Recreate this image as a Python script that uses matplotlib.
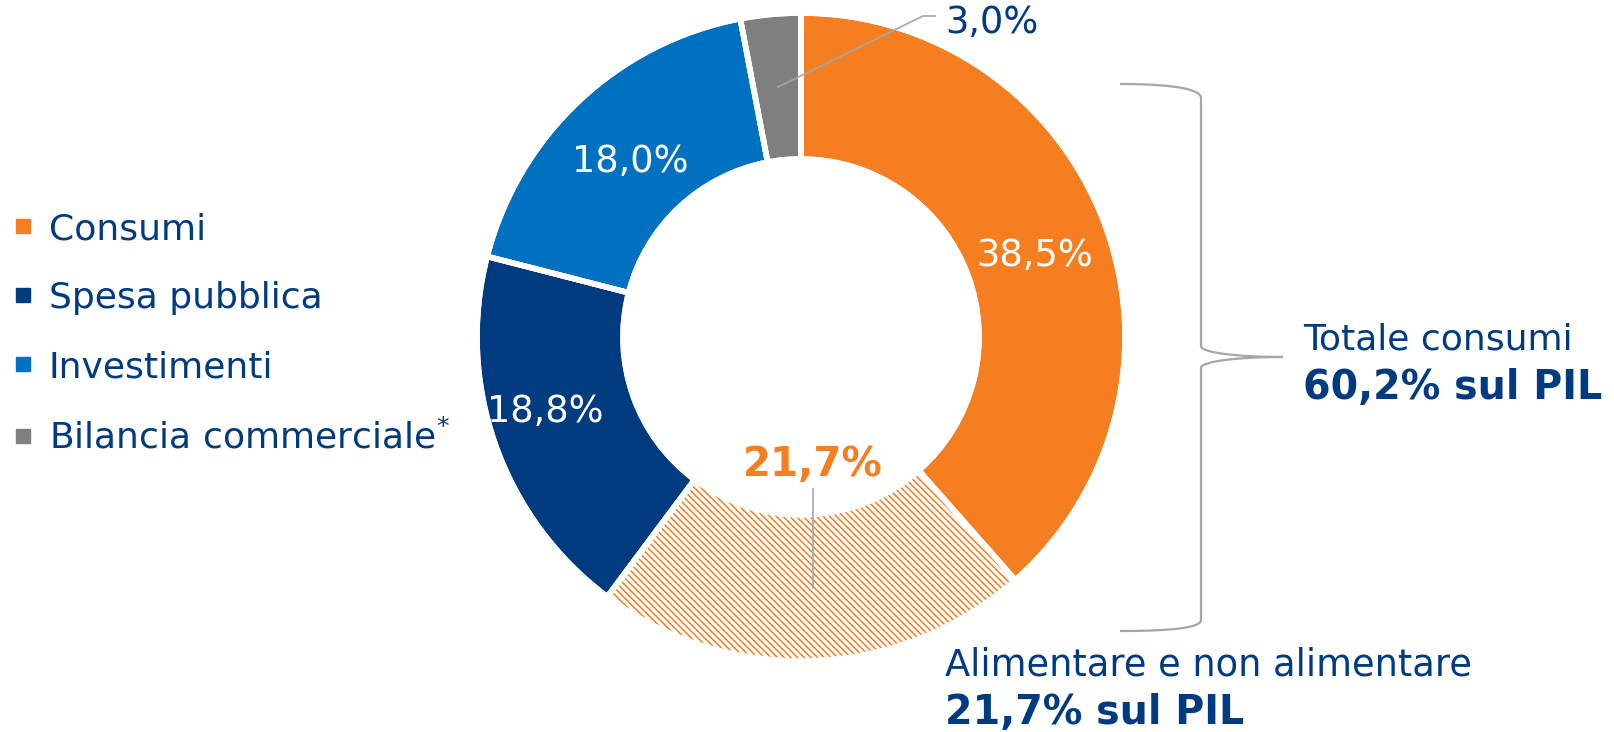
import matplotlib
matplotlib.use("Agg")
import matplotlib.pyplot as plt
from matplotlib.lines import Line2D
from matplotlib.path import Path
from matplotlib.patches import PathPatch

plt.rcParams['font.family'] = ['DejaVu Sans']
plt.rcParams['mathtext.fontset'] = 'dejavusans'
plt.rcParams['hatch.linewidth'] = 1.1

# data (% of PIL)
slices = ['Consumi', 'Alimentare e non alimentare', 'Spesa pubblica',
          'Investimenti', 'Bilancia commerciale']
values = [38.5, 21.7, 18.8, 18.0, 3.0]
legend_labels = ['Consumi', 'Spesa pubblica', 'Investimenti',
                 'Bilancia commerciale$^{*}$']
totale_consumi = 60.2

ORANGE = '#F47E20'
NAVY = '#003B7F'
BLUE = '#0070C0'
GREY = '#7F7F7F'
TXT = '#003A80'
LINE = '#A6A6A6'
colors = [ORANGE, 'white', NAVY, BLUE, GREY]
legend_colors = [ORANGE, NAVY, BLUE, GREY]


def pct(v):
    return f"{v:.1f}".replace('.', ',') + '%'


fig = plt.figure(figsize=(16.15, 7.32), dpi=100)
ax = fig.add_axes([0, 0, 1, 1])

center = (801, 337)
R = 324
W = 146

# y axis is inverted below, so counterclock=True turns clockwise on screen
wedges, _ = ax.pie(values, colors=colors, startangle=-90, counterclock=True,
                   center=center, radius=R,
                   wedgeprops=dict(width=W, edgecolor='white', linewidth=4))
hw = wedges[1]
hw.set_edgecolor(ORANGE)
hw.set_hatch('\\' * 5)
hw.set_linewidth(0)
# white gaps drawn again on top of the hatched slice
ax.pie(values, colors=['none'] * len(values), startangle=-90, counterclock=True,
       center=center, radius=R,
       wedgeprops=dict(width=W, edgecolor='white', linewidth=4, fill=False))

ax.set_xlim(0, 1615)
ax.set_ylim(732, 0)
ax.axis('off')

# labels on the ring
ax.text(1035, 266, pct(values[0]), color='white', fontsize=26.5, ha='center', va='baseline')
ax.text(630, 172, pct(values[3]), color='white', fontsize=26.5, ha='center', va='baseline')
ax.text(545, 422, pct(values[2]), color='white', fontsize=26.5, ha='center', va='baseline')
ax.text(813, 476, pct(values[1]), color=ORANGE, fontsize=29, fontweight='bold',
        ha='center', va='baseline')
ax.plot([813, 813], [489, 588], color=LINE, lw=1.2)

ax.text(945, 33, pct(values[4]), color=TXT, fontsize=26.5, ha='left', va='baseline')
ax.plot([778, 923, 935], [87, 16, 16], color=LINE, lw=1.2)

# curly brace for total consumption
verts = [(1120, 84), (1178, 84), (1201, 90), (1201, 98),
         (1201, 346),
         (1201, 353), (1240, 357), (1283, 357),
         (1240, 357), (1201, 361), (1201, 368),
         (1201, 620),
         (1201, 627), (1178, 631), (1120, 631)]
codes = [Path.MOVETO, Path.CURVE4, Path.CURVE4, Path.CURVE4,
         Path.LINETO,
         Path.CURVE4, Path.CURVE4, Path.CURVE4,
         Path.CURVE4, Path.CURVE4, Path.CURVE4,
         Path.LINETO,
         Path.CURVE4, Path.CURVE4, Path.CURVE4]
ax.add_patch(PathPatch(Path(verts, codes), fill=False, edgecolor=LINE, lw=1.6))

ax.text(1303, 350, 'Totale consumi', color=TXT, fontsize=26, va='baseline')
ax.text(1303, 399, pct(totale_consumi) + ' sul PIL', color=TXT, fontsize=28.5,
        fontweight='bold', va='baseline')
ax.text(945, 675, slices[1], color=TXT, fontsize=26.5, va='baseline')
ax.text(945, 724, pct(values[1]) + ' sul PIL', color=TXT, fontsize=28.5,
        fontweight='bold', va='baseline')

handles = [Line2D([], [], ls='none', marker='s', markersize=10.5,
                  markerfacecolor=c, markeredgecolor=c) for c in legend_colors]
leg = ax.legend(handles, legend_labels, loc='upper left',
                bbox_to_anchor=(9 / 1615, 1 - 212 / 732), bbox_transform=fig.transFigure,
                frameon=False, fontsize=26, borderpad=0, borderaxespad=0,
                handlelength=0.8, handletextpad=0.3, labelspacing=0.97)
for t in leg.get_texts():
    t.set_color(TXT)

fig.savefig('out.png', dpi=100)
